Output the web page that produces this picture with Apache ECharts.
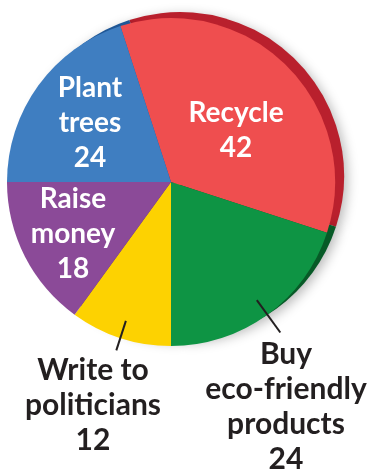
<!DOCTYPE html>
<html>
<head>
<meta charset="utf-8">
<script src="https://cdn.jsdelivr.net/npm/echarts@6/dist/echarts.min.js"></script>
<style>
  html, body { margin: 0; padding: 0; background: #fff; }
  #main { width: 369px; height: 471px; }
</style>
</head>
<body>
<div id="main"></div>
<script>
var names = ['Recycle', 'Buy\neco-friendly\nproducts', 'Write to\npoliticians', 'Raise\nmoney', 'Plant\ntrees'];
var values = [42, 24, 12, 18, 24];
var colors = ['#EF4E4F', '#0E9444', '#FDD201', '#8B4A98', '#3F7EC1'];
var rimColors = ['#B9202D', '#075A27', '#C9A400', '#5E2E6A', '#1F5796'];

// where each label sits (inside ones centred, outside ones hang from the top)
var labelPos = [
    { x: 236, y: 130, v: 'middle' },
    { x: 286, y: 337, v: 'top', line: 40 },
    { x: 93, y: 353, v: 'top', line: 31 },
    { x: 73, y: 234, v: 'middle' },
    { x: 90, y: 123, v: 'middle' }
];

var front = [];
var back = [];
var pointers = [];
for (var i = 0; i < values.length; i++) {
    var outside = labelPos[i].v == 'top';
    front.push({
        name: names[i],
        value: values[i],
        itemStyle: { color: colors[i] },
        label: {
            position: outside ? 'outside' : 'inside',
            color: outside ? '#231F20' : '#ffffff',
            fontSize: outside ? 30 : 28,
            lineHeight: outside ? 35 : 35
        }
    });
    back.push({
        name: names[i],
        value: values[i],
        itemStyle: { color: rimColors[i] }
    });
    pointers.push({
        name: names[i],
        value: values[i],
        label: { show: outside },
        labelLine: { show: outside, length: outside ? labelPos[i].line : 0 }
    });
}

function layoutLabel(params) {
    var p = labelPos[params.dataIndex];
    return { x: p.x, y: p.y, align: 'center', verticalAlign: p.v };
}

var myChart = echarts.init(document.getElementById('main'), null, { renderer: 'canvas' });

var option = {
    animation: false,
    series: [
        {
            type: 'pie',
            silent: true,
            z: 1,
            center: [180, 176],
            radius: [0, 164],
            startAngle: 108,
            clockwise: true,
            avoidLabelOverlap: false,
            label: { show: false },
            labelLine: { show: false },
            itemStyle: {
                shadowBlur: 12,
                shadowColor: 'rgba(0,0,0,0.28)',
                shadowOffsetX: 3,
                shadowOffsetY: 3
            },
            data: back
        },
        {
            type: 'pie',
            silent: true,
            z: 2,
            center: [171, 182],
            radius: [0, 164],
            startAngle: 108,
            clockwise: true,
            avoidLabelOverlap: false,
            label: {
                show: true,
                formatter: '{b}\n{c}',
                fontFamily: 'Lato',
                fontWeight: 'bold',
                fontSize: 28,
                lineHeight: 35,
                align: 'center'
            },
            labelLine: { show: false },
            labelLayout: layoutLabel,
            data: front
        },
        {
            // leader lines start inside the slices
            type: 'pie',
            silent: true,
            z: 3,
            center: [171, 182],
            radius: [0, 146],
            startAngle: 108,
            clockwise: true,
            avoidLabelOverlap: false,
            itemStyle: { color: 'rgba(0,0,0,0)' },
            label: {
                position: 'outside',
                formatter: ' ',
                fontSize: 1,
                alignTo: 'none'
            },
            labelLine: {
                length2: 0,
                lineStyle: { color: '#231F20', width: 2 }
            },
            data: pointers
        }
    ]
};

myChart.setOption(option);
</script>
</body>
</html>
